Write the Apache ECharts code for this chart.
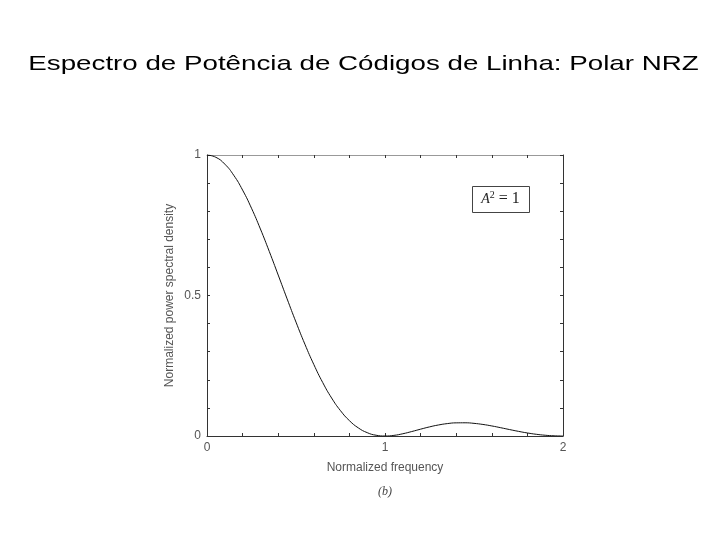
<!DOCTYPE html>
<html>
<head>
<meta charset="utf-8">
<script src="https://cdn.jsdelivr.net/npm/echarts@6/dist/echarts.min.js"></script>
<style>html,body{margin:0;padding:0;background:#fff}#c{width:720px;height:540px}</style>
</head>
<body>
<div id="c"></div>
<script>
const titleText = 'Espectro de Potência de Códigos de Linha: Polar NRZ';
const xName = 'Normalized frequency';
const yName = 'Normalized power spectral density';
const caption = '(b)';
const freq = [0,0.05,0.1,0.15,0.2,0.25,0.3,0.35,0.4,0.45,0.5,0.55,0.6,0.65,0.7,0.75,0.8,0.85,0.9,0.95,1.0,1.05,1.1,1.15,1.2,1.25,1.3,1.35,1.4,1.45,1.5,1.55,1.6,1.65,1.7,1.75,1.8,1.85,1.9,1.95,2.0];
const psd = [1,0.9918,0.9675,0.9281,0.8751,0.8106,0.7368,0.6566,0.5728,0.4881,0.4053,0.3267,0.2546,0.1904,0.1353,0.0901,0.0547,0.0289,0.0119,0.0027,0,0.0022,0.0080,0.0158,0.0243,0.0324,0.0392,0.0441,0.0468,0.0470,0.0450,0.0411,0.0358,0.0295,0.0229,0.0165,0.0108,0.0061,0.0027,0.0007,0];
const xLabels = [0,1,2];
const yLabels = [0,0.5,1];

const chart = echarts.init(document.getElementById('c'));
const tickStyle = {show:true, inside:true, length:3, lineStyle:{color:'#333', width:1}};
const font = 'Liberation Sans, Arial';
chart.setOption({
  animation:false,
  grid:{left:207, right:157, top:155, bottom:104},
  xAxis:[{type:'value', min:0, max:2, interval:0.2,
    name:xName, nameLocation:'middle', nameGap:26,
    nameTextStyle:{fontFamily:font, fontSize:12, color:'#555'},
    axisLine:{onZero:false, lineStyle:{color:'#333', width:1}}, axisTick:tickStyle, splitLine:{show:false},
    axisLabel:{color:'#555', fontSize:12, fontFamily:font, margin:6,
      formatter:v=>{const r=Math.round(v*1000)/1000; return xLabels.includes(r)?String(r):'';}}},
    {type:'value', position:'top', min:0, max:2, interval:0.2,
    axisLine:{show:true, onZero:false, lineStyle:{color:'#999', width:1}}, axisTick:tickStyle, axisLabel:{show:false}, splitLine:{show:false}}],
  yAxis:[{type:'value', min:0, max:1, interval:0.1,
    name:yName, nameLocation:'middle', nameGap:31, nameRotate:90,
    nameTextStyle:{fontFamily:font, fontSize:12, color:'#555'},
    axisLine:{show:true, onZero:false, lineStyle:{color:'#333', width:1}}, axisTick:tickStyle, splitLine:{show:false},
    axisLabel:{color:'#555', fontSize:12, fontFamily:font, margin:6,
      formatter:v=>{const r=Math.round(v*1000)/1000; return yLabels.includes(r)?String(r):'';}}},
    {type:'value', position:'right', min:0, max:1, interval:0.1,
    axisLine:{show:true, onZero:false, lineStyle:{color:'#333', width:1}}, axisTick:tickStyle, axisLabel:{show:false}, splitLine:{show:false}}],
  series:[{type:'line', data:freq.map((f,i)=>[f,psd[i]]), smooth:true, showSymbol:false,
    lineStyle:{color:'#111', width:1}}],
  graphic:[
    {type:'text', x:363.5, y:64.5, scaleX:1.32, style:{text:titleText, fontFamily:font, fontSize:21, fill:'#000', align:'center', verticalAlign:'middle'}},
    {type:'rect', left:472, top:186, shape:{width:57, height:26}, style:{fill:'#fff', stroke:'#444', lineWidth:1}},
    {type:'text', x:500.5, y:199, style:{align:'center', verticalAlign:'middle', rich:{i:{fontFamily:'Liberation Serif',fontStyle:'italic',fontSize:14},s:{fontFamily:'Liberation Serif',fontSize:10,padding:[0,0,8,0]},n:{fontFamily:'Liberation Serif',fontSize:16}}, text:'{i|A}{s|2}{n| = 1}', fill:'#222'}},
    {type:'text', x:385, y:492, style:{text:caption, align:'center', verticalAlign:'middle', fontFamily:'Liberation Serif', fontStyle:'italic', fontSize:12, fill:'#444'}}
  ]
});
</script>
</body>
</html>
